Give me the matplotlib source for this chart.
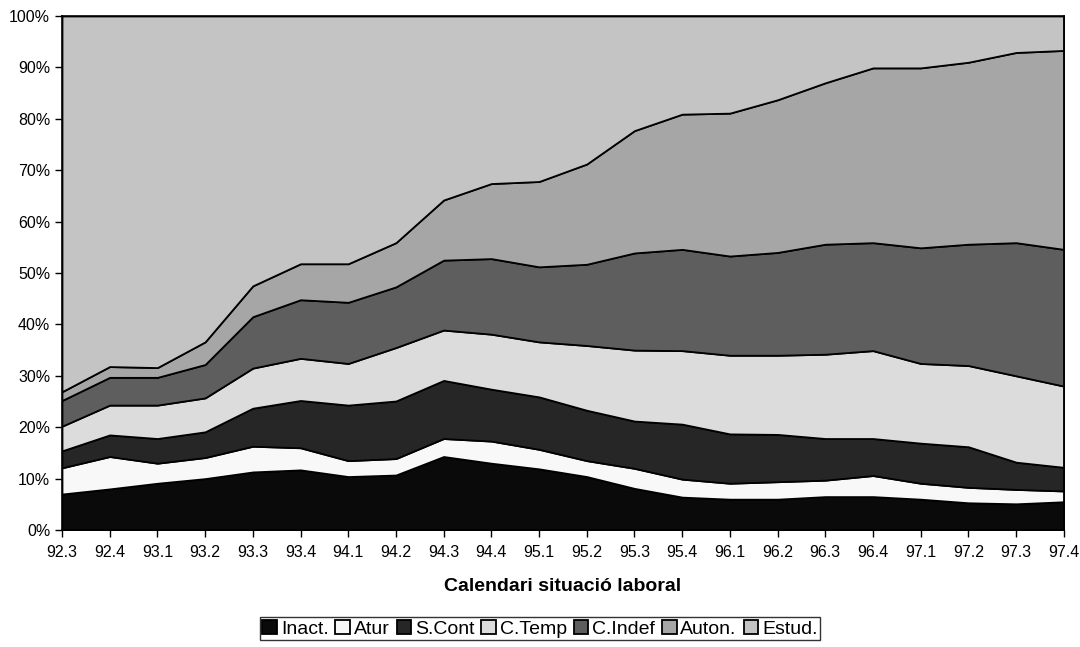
import matplotlib.pyplot as plt
import numpy as np
from matplotlib.ticker import PercentFormatter

plt.rcParams['font.family'] = ['Liberation Sans', 'DejaVu Sans']

quarters = ['92.3', '92.4', '93.1', '93.2', '93.3', '93.4', '94.1', '94.2', '94.3', '94.4', '95.1',
            '95.2', '95.3', '95.4', '96.1', '96.2', '96.3', '96.4', '97.1', '97.2', '97.3', '97.4']

inact = [7.0, 8.0, 9.1, 10.0, 11.3, 11.7, 10.4, 10.7, 14.3, 13.0, 11.9,
         10.4, 8.1, 6.4, 6.0, 6.0, 6.5, 6.5, 6.0, 5.3, 5.1, 5.5]
atur = [5.1, 6.3, 3.9, 4.1, 5.0, 4.3, 3.1, 3.2, 3.5, 4.3, 3.8,
        3.1, 3.9, 3.5, 3.1, 3.4, 3.2, 4.1, 3.1, 3.0, 2.8, 2.1]
s_cont = [3.3, 4.2, 4.8, 5.0, 7.4, 9.2, 10.8, 11.2, 11.3, 10.1, 10.2,
          9.8, 9.2, 10.7, 9.6, 9.2, 8.1, 7.2, 7.8, 7.9, 5.3, 4.6]
c_temp = [4.8, 5.8, 6.5, 6.6, 7.8, 8.2, 8.1, 10.4, 9.8, 10.7, 10.7,
          12.6, 13.8, 14.3, 15.3, 15.4, 16.4, 17.1, 15.5, 15.8, 16.8, 15.8]
c_indef = [5.0, 5.4, 5.4, 6.5, 10.0, 11.4, 11.9, 11.8, 13.6, 14.7, 14.6,
           15.8, 18.9, 19.7, 19.3, 20.0, 21.4, 21.0, 22.5, 23.6, 25.9, 26.6]
auton = [1.7, 2.1, 1.9, 4.4, 6.0, 7.0, 7.5, 8.6, 11.7, 14.6, 16.6,
         19.5, 23.8, 26.3, 27.8, 29.7, 31.4, 34.0, 35.0, 35.4, 37.0, 38.7]
estud = [73.1, 68.2, 68.4, 63.4, 52.5, 48.2, 48.2, 44.1, 35.8, 32.6, 32.2,
         28.8, 22.3, 19.1, 18.9, 16.3, 13.0, 10.1, 10.1, 9.0, 7.1, 6.7]

labels = ['Inact.', 'Atur', 'S.Cont', 'C.Temp', 'C.Indef', 'Auton.', 'Estud.']
colors = ['#0a0a0a', '#f8f8f8', '#262626', '#dcdcdc', '#5e5e5e', '#a6a6a6', '#c4c4c4']

fig = plt.figure(figsize=(10.8, 6.47), dpi=100)
ax = fig.add_axes([0.0574, 0.1808, 0.9276, 0.7945])

x = np.arange(len(quarters))
ax.stackplot(x, inact, atur, s_cont, c_temp, c_indef, auton, estud,
             labels=labels, colors=colors, edgecolor='black', linewidth=1.3)

ax.set_xlim(0, len(quarters) - 1)
ax.set_ylim(0, 100)
ax.set_xticks(x)
ax.set_xticklabels(quarters)
ax.set_yticks(np.arange(0, 101, 10))
ax.yaxis.set_major_formatter(PercentFormatter(decimals=0))
ax.tick_params(axis='y', labelsize=11.5, direction='out', length=5, width=1)
ax.tick_params(axis='x', labelsize=11.5, direction='out', length=5, width=1, pad=6)
for s in ax.spines.values():
    s.set_linewidth(1.2)

ax.set_xlabel('Calendari situació laboral', fontsize=14, fontweight='bold', labelpad=13)

leg = fig.legend(loc='lower center', bbox_to_anchor=(0.5, 0.005), ncol=7, fontsize=14,
                 frameon=True, fancybox=False, edgecolor='black', handlelength=0.75,
                 handleheight=0.75, handletextpad=0.2, columnspacing=0.35, borderpad=0.12,
                 borderaxespad=0.2)
leg.get_frame().set_linewidth(1.0)

fig.savefig('out.png', dpi=100)
